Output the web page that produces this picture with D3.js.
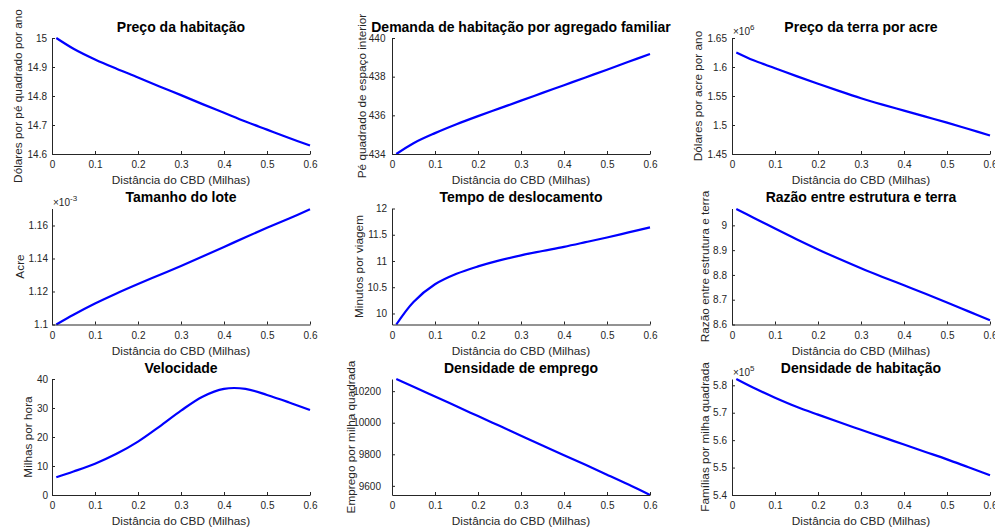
<!DOCTYPE html>
<html>
<head>
<meta charset="utf-8">
<script src="https://cdn.jsdelivr.net/npm/d3@7"></script>
<style>
  body { margin: 0; background: #fff; }
  svg { display: block; font-family: "Liberation Sans", Arial, sans-serif; }
  .axis path, .axis line { stroke: #262626; }
  .axis text { fill: #262626; font-size: 10px; font-family: "Liberation Sans", Arial, sans-serif; }
  .title { font-size: 14px; font-weight: bold; fill: #000; }
  .label { font-size: 11.8px; fill: #262626; }
  .expo { font-size: 10px; fill: #262626; }
</style>
</head>
<body>
<div id="chart"></div>
<script>
const width = 995,
    height = 528;

// distance from the CBD (miles), shared by every panel
const distance = [0.01, 0.05, 0.1, 0.15, 0.2, 0.25, 0.3, 0.35, 0.4, 0.45, 0.5, 0.55, 0.6];
const xTicks = [0, 0.1, 0.2, 0.3, 0.4, 0.5, 0.6];

// series
const housingPrice = [15.0, 14.963, 14.926, 14.894, 14.864, 14.833, 14.803, 14.772, 14.742, 14.712, 14.684, 14.656, 14.629];
const housingDemand = [434.0, 434.56, 435.08, 435.54, 435.96, 436.36, 436.76, 437.16, 437.56, 437.96, 438.36, 438.77, 439.17];
const landPrice = [1.625e6, 1.6115e6, 1.598e6, 1.5843e6, 1.5712e6, 1.5584e6, 1.5462e6, 1.5352e6, 1.5248e6, 1.5144e6, 1.504e6, 1.493e6, 1.482e6];
const lotSize = [1.1e-3, 1.1059e-3, 1.1127e-3, 1.1188e-3, 1.1245e-3, 1.13e-3, 1.1355e-3, 1.1412e-3, 1.147e-3, 1.1529e-3, 1.1586e-3, 1.1641e-3, 1.1698e-3];
const commuteTime = [9.79, 10.22, 10.556, 10.756, 10.897, 11.012, 11.108, 11.19, 11.27, 11.358, 11.448, 11.544, 11.64];
const structureRatio = [9.066, 9.031, 8.987, 8.944, 8.903, 8.864, 8.827, 8.792, 8.758, 8.724, 8.689, 8.653, 8.617];
const speed = [6.1, 8.1, 10.8, 14.2, 18.4, 23.6, 29.1, 33.9, 36.6, 36.6, 34.5, 32.0, 29.3];
const jobDensity = [10277, 10228, 10166, 10104, 10042, 9980, 9918, 9856, 9794, 9733, 9671, 9608, 9542];
const houseDensity = [5.823e5, 5.791e5, 5.755e5, 5.722e5, 5.693e5, 5.665e5, 5.638e5, 5.611e5, 5.584e5, 5.557e5, 5.53e5, 5.501e5, 5.472e5];

// y tick labels
const priceTicks = [14.6, 14.7, 14.8, 14.9, 15];
const demandTicks = [434, 436, 438, 440];
const landTicks = [1.45e6, 1.5e6, 1.55e6, 1.6e6, 1.65e6];
const lotTicks = [1.1e-3, 1.12e-3, 1.14e-3, 1.16e-3];
const commuteTicks = [10, 10.5, 11, 11.5, 12];
const ratioTicks = [8.6, 8.7, 8.8, 8.9, 9];
const speedTicks = [0, 10, 20, 30, 40];
const jobTicks = [9600, 9800, 10000, 10200];
const houseTicks = [5.4e5, 5.5e5, 5.6e5, 5.7e5, 5.8e5];

const xLabel = 'Distância do CBD (Milhas)';

const panels = [
    { title: 'Preço da habitação', ylabel: 'Dólares por pé quadrado por ano', values: housingPrice, ticks: priceTicks, ylim: [14.6, 15], pad: 5, lab: 34.5 },
    { title: 'Demanda de habitação por agregado familiar', ylabel: 'Pé quadrado de espaço interior', values: housingDemand, ticks: demandTicks, ylim: [434, 440], pad: 6.5, lab: 30 },
    { title: 'Preço da terra por acre', ylabel: 'Dólares por acre por ano', values: landPrice, ticks: landTicks, ylim: [1.45e6, 1.65e6], pad: 5, lab: 34, expo: 6 },
    { title: 'Tamanho do lote', ylabel: 'Acre', values: lotSize, ticks: lotTicks, ylim: [1.1e-3, 1.1703e-3], pad: 4, lab: 31.7, expo: -3 },
    { title: 'Tempo de deslocamento', ylabel: 'Minutos por viagem', values: commuteTime, ticks: commuteTicks, ylim: [9.79, 12], pad: 5, lab: 33 },
    { title: 'Razão entre estrutura e terra', ylabel: 'Razão entre estrutura e terra', values: structureRatio, ticks: ratioTicks, ylim: [8.6, 9.068], pad: 5, lab: 27 },
    { title: 'Velocidade', ylabel: 'Milhas por hora', values: speed, ticks: speedTicks, ylim: [0, 40], pad: 4, lab: 23.7 },
    { title: 'Densidade de emprego', ylabel: 'Emprego por milha quadrada', values: jobDensity, ticks: jobTicks, ylim: [9542, 10277], pad: 11, lab: 41.5 },
    { title: 'Densidade de habitação', ylabel: 'Famílias por milha quadrada', values: houseDensity, ticks: houseTicks, ylim: [5.4e5, 5.823e5], pad: 5, lab: 27, expo: 5 }
];

const colX = [52, 392, 732],
    rowY = [38, 208.5, 379],
    plotW = 258,
    plotH = 116;

var svg = d3.select('#chart')
    .append('svg')
    .attr('width', width)
    .attr('height', height);

panels.forEach((p, i) => {
    const g = svg.append('g')
        .attr('transform', 'translate(' + colX[i % 3] + ',' + rowY[Math.floor(i / 3)] + ')');

    const xScale = d3.scaleLinear().domain([0, 0.6]).range([0, plotW]);
    const yScale = d3.scaleLinear().domain(p.ylim).range([plotH, 0]);
    const scale = p.expo ? Math.pow(10, p.expo) : 1;

    const line = d3.line()
        .x((d, j) => xScale(distance[j]))
        .y(d => yScale(d))
        .curve(d3.curveCatmullRom);

    g.append('path')
        .datum(p.values)
        .attr('d', line)
        .attr('fill', 'none')
        .attr('stroke', '#0000ff')
        .attr('stroke-width', 2.2);

    // x axis, ticks pointing in
    g.append('g')
        .attr('class', 'axis')
        .attr('transform', 'translate(0,' + plotH + ')')
        .call(d3.axisBottom(xScale).tickValues(xTicks).tickSizeInner(-3).tickSizeOuter(0).tickPadding(7)
            .tickFormat(d => String(+d.toFixed(1))));

    // y axis
    g.append('g')
        .attr('class', 'axis')
        .call(d3.axisLeft(yScale).tickValues(p.ticks).tickSizeInner(-3).tickSizeOuter(0).tickPadding(p.pad)
            .tickFormat(d => String(+(d / scale).toFixed(4))));

    g.append('text')
        .attr('class', 'title')
        .attr('x', plotW / 2)
        .attr('y', -6.5)
        .attr('text-anchor', 'middle')
        .text(p.title);

    g.append('text')
        .attr('class', 'label')
        .attr('x', plotW / 2)
        .attr('y', plotH + 30)
        .attr('text-anchor', 'middle')
        .text(xLabel);

    g.append('text')
        .attr('class', 'label')
        .attr('transform', 'translate(' + (-p.lab) + ',' + (plotH / 2) + ') rotate(-90)')
        .attr('dy', '0.35em')
        .attr('text-anchor', 'middle')
        .text(p.ylabel);

    if (p.expo) {
        const t = g.append('text')
            .attr('class', 'expo')
            .attr('x', 1)
            .attr('y', -3);
        t.append('tspan').text('×10');
        t.append('tspan')
            .attr('dy', -5)
            .style('font-size', '8px')
            .text(p.expo);
    }
});
</script>
</body>
</html>
